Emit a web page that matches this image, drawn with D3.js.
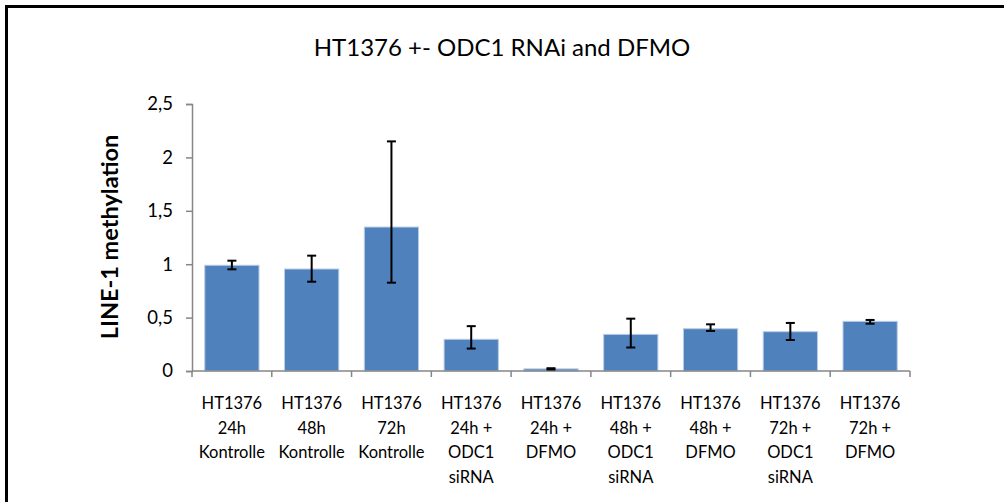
<!DOCTYPE html>
<html><head><meta charset="utf-8">
<script src="https://cdn.jsdelivr.net/npm/d3@7"></script>
<style>
html,body{margin:0;padding:0;background:#fff;}
svg{display:block;}
text{font-family:Lato,"Liberation Sans",sans-serif;fill:#000;}
</style></head>
<body>
<svg id="chart" width="1004" height="502"></svg>
<script>
const title = "HT1376 +- ODC1 RNAi and DFMO";
const yTitle = "LINE-1 methylation";
const categories = [
  ["HT1376","24h","Kontrolle"],
  ["HT1376","48h","Kontrolle"],
  ["HT1376","72h","Kontrolle"],
  ["HT1376","24h +","ODC1","siRNA"],
  ["HT1376","24h +","DFMO"],
  ["HT1376","48h +","ODC1","siRNA"],
  ["HT1376","48h +","DFMO"],
  ["HT1376","72h +","ODC1","siRNA"],
  ["HT1376","72h +","DFMO"]
];
const values   = [0.99, 0.955, 1.348, 0.297, 0.02, 0.343, 0.396, 0.368, 0.465];
const errUpper = [1.033, 1.08, 2.15, 0.42, 0.026, 0.49, 0.437, 0.45, 0.478];
const errLower = [0.952, 0.836, 0.827, 0.21, 0.014, 0.22, 0.375, 0.29, 0.443];
const yTicks = [0, 0.5, 1, 1.5, 2, 2.5];

const svg = d3.select("#chart");
const m = {left:192, right:94, top:104, bottom:131};
const W = 1004, H = 502;

// frame
svg.append("path").attr("d", `M6.5,${H} L6.5,6.5 L${W},6.5`)
  .attr("fill","none").attr("stroke","#000").attr("stroke-width",3);

const idx = categories.map((c,i)=>i);
const x = d3.scaleBand().domain(idx).range([m.left, W-m.right]).paddingInner(0.32).paddingOuter(0.16);
const y = d3.scaleLinear().domain([0,2.5]).range([H-m.bottom, m.top]);

// bars
svg.append("g").selectAll("rect").data(values).join("rect")
  .attr("x",(d,i)=>x(i)).attr("width",x.bandwidth())
  .attr("y",d=>y(d)).attr("height",d=>y(0)-y(d))
  .attr("fill","#4F81BD").attr("stroke","#B9CDE5").attr("stroke-width",1);

// y axis
const yAxis = d3.axisLeft(y).tickValues(yTicks).tickSize(6).tickPadding(13)
  .tickFormat(d=>String(d).replace(".",","));
const gy = svg.append("g").attr("transform",`translate(${m.left},0)`).call(yAxis);
gy.select(".domain").attr("stroke","#868686").attr("stroke-width",1.5);
gy.selectAll(".tick line").attr("stroke","#868686").attr("stroke-width",1.5);
gy.selectAll(".tick text").attr("font-size",18.5).attr("font-family","Lato,sans-serif").attr("fill","#000");

// x axis line + ticks at band boundaries
const step = x.step();
const x0 = m.left;
const bounds = d3.range(categories.length+1).map(i => x0 + i*step);
svg.append("line").attr("x1",m.left).attr("x2",W-m.right).attr("y1",y(0)).attr("y2",y(0))
  .attr("stroke","#868686").attr("stroke-width",1.5);
svg.append("g").selectAll("line").data(bounds).join("line")
  .attr("x1",d=>d).attr("x2",d=>d).attr("y1",y(0)).attr("y2",y(0)+6)
  .attr("stroke","#868686").attr("stroke-width",1.5);

// error bars
const eb = svg.append("g").attr("stroke","#000").attr("stroke-width",2);
values.forEach((v,i)=>{
  const cx = x(i)+x.bandwidth()/2;
  eb.append("line").attr("x1",cx).attr("x2",cx).attr("y1",y(errUpper[i])).attr("y2",y(errLower[i]));
  eb.append("line").attr("x1",cx-4.5).attr("x2",cx+4.5).attr("y1",y(errUpper[i])).attr("y2",y(errUpper[i]));
  eb.append("line").attr("x1",cx-4.5).attr("x2",cx+4.5).attr("y1",y(errLower[i])).attr("y2",y(errLower[i]));
});

// category labels
const gl = svg.append("g");
categories.forEach((lines,i)=>{
  const cx = x(i)+x.bandwidth()/2;
  const t = gl.append("text").attr("text-anchor","middle").attr("font-size",16.5);
  lines.forEach((ln,j)=>{
    t.append("tspan").attr("x",cx).attr("y",y(0)+38+j*24.5).text(ln);
  });
});

// title
svg.append("text").attr("x",502).attr("y",56).attr("text-anchor","middle")
  .attr("font-size",24).text(title);

// y title
svg.append("text").attr("transform",`translate(118,237) rotate(-90)`)
  .attr("text-anchor","middle").attr("font-size",23.5).attr("font-weight","bold").text(yTitle);
</script>
</body></html>
